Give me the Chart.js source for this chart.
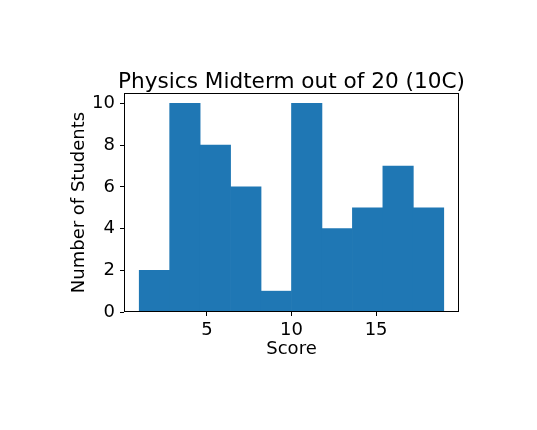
<!DOCTYPE html>
<html lang="en">
<head>
    <meta charset="UTF-8">
    <title>Physics Midterm</title>
    <script src="https://cdn.jsdelivr.net/npm/chart.js@4/dist/chart.umd.min.js"></script>
    <style>
        html, body { margin: 0; padding: 0; background: #fff; }
        #wrap { width: 537px; height: 430px; }
    </style>
</head>
<body>
    <div id="wrap"><canvas id="histChart" width="537" height="430"></canvas></div>

    <script>
        // histogram data: bin edges (left side of each bar) and counts
        const binStarts = [1, 2.8, 4.6, 6.4, 8.2, 10, 11.8, 13.6, 15.4, 17.2];
        const binWidth = 1.8;
        const counts = [2, 10, 8, 6, 1, 10, 4, 5, 7, 5];
        const xTicks = [5, 10, 15];
        const yTicks = [0, 2, 4, 6, 8, 10];
        const chartTitle = 'Physics Midterm out of 20 (10C)';

        Chart.defaults.font.family = "'DejaVu Sans', sans-serif";
        Chart.defaults.color = '#000';

        // matplotlib style box round the plot area, title centred over the axes
        const frame = {
            id: 'frame',
            afterDatasetsDraw(chart) {
                const a = chart.chartArea;
                const c = chart.ctx;
                c.save();
                c.strokeStyle = '#000';
                c.lineWidth = 1;
                c.strokeRect(Math.round(a.left) + 0.5, Math.round(a.top) + 0.5,
                    Math.round(a.right - a.left) - 1, Math.round(a.bottom - a.top) - 1);
                c.fillStyle = '#000';
                c.font = "21.6px 'DejaVu Sans', sans-serif";
                c.textAlign = 'center';
                c.textBaseline = 'alphabetic';
                c.fillText(chartTitle, (a.left + a.right) / 2, a.top - 5.5);
                c.restore();
            }
        };

        const ctx = document.getElementById('histChart').getContext('2d');
        const histChart = new Chart(ctx, {
            type: 'bar',
            data: {
                datasets: [{
                    data: binStarts.map((s, i) => ({ x: s + binWidth / 2, y: counts[i] })),
                    backgroundColor: '#1f77b4',
                    borderWidth: 0,
                    barPercentage: 1,
                    categoryPercentage: 1
                }]
            },
            plugins: [frame],
            options: {
                responsive: false,
                animation: false,
                devicePixelRatio: 1,
                layout: { padding: { left: 0, right: 78, top: 93, bottom: 0 } },
                plugins: {
                    legend: { display: false },
                    tooltip: { enabled: false },
                    title: { display: false }
                },
                scales: {
                    x: {
                        type: 'linear',
                        min: 0.1,
                        max: 19.9,
                        offset: false,
                        grid: { offset: false, drawOnChartArea: false, drawTicks: true, tickLength: 4, tickColor: '#000' },
                        border: { display: false },
                        afterBuildTicks: s => { s.ticks = xTicks.map(v => ({ value: v })); },
                        afterFit: s => { s.height = 118; },
                        ticks: { font: { size: 18 }, padding: 4, maxRotation: 0 },
                        title: { display: true, text: 'Score', font: { size: 18 }, padding: { top: 0, bottom: 70 } }
                    },
                    y: {
                        min: 0,
                        max: 10.5,
                        grid: { drawOnChartArea: false, drawTicks: true, tickLength: 4, tickColor: '#000' },
                        border: { display: false },
                        afterBuildTicks: s => { s.ticks = yTicks.map(v => ({ value: v })); },
                        afterFit: s => { s.width = 124; },
                        ticks: { font: { size: 18 }, padding: 5 },
                        title: { display: true, text: 'Number of Students', font: { size: 18 }, padding: { top: 68.5, bottom: 0 } }
                    }
                }
            }
        });
    </script>
</body>
</html>
